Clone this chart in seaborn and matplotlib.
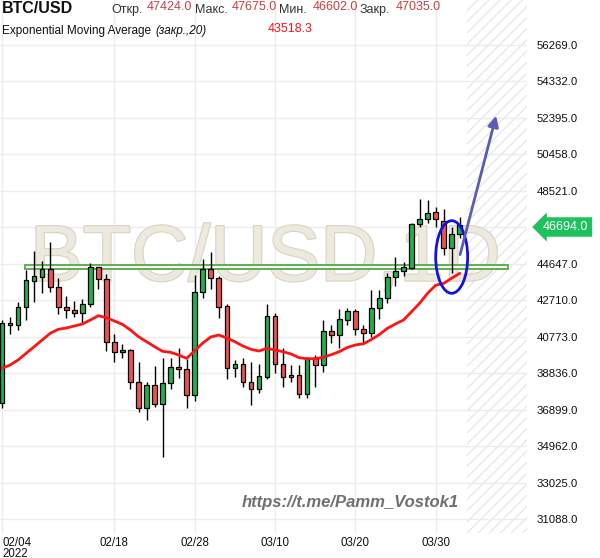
import pandas as pd
import matplotlib
matplotlib.use("Agg")
import matplotlib.pyplot as plt
import matplotlib.dates as mdates
import matplotlib.patheffects as pe
from matplotlib.patches import Ellipse, Rectangle
import seaborn as sns

# daily BTC/USD candles, 04.02.2022 - 02.04.2022
dates = pd.date_range("2022-02-04", "2022-04-02", freq="D")
opens = [37254, 41500, 41393, 42349, 43760, 43973, 44365, 43442, 42349, 42189,
         42030, 42508, 44471, 43835, 40491, 39960, 40067, 38368, 36988, 38225,
         37201, 38315, 39164, 39058, 37678, 43145, 44365, 43888, 42402, 39111,
         39324, 38368, 37997, 38634, 41887, 39355, 38740, 38740, 37747, 39642,
         39271, 41091, 40863, 41675, 42152, 41197, 40969, 42295, 42826, 43941,
         44275, 44418, 46753, 47019, 47424, 46944, 45480, 46223]
highs = [41675, 41850, 42646, 44328, 45336, 44822, 45798, 43888, 42964, 42683,
         42773, 44684, 44503, 44100, 40932, 40385, 40120, 39462, 38411, 39217,
         39642, 39642, 40215, 39605, 44063, 44896, 45267, 44036, 42524, 39552,
         39642, 39462, 39324, 42524, 42030, 40173, 39286, 39286, 39695, 39817,
         41675, 41409, 42242, 42295, 42242, 41409, 43267, 43267, 44153, 45002,
         44769, 46838, 48080, 48043, 47675, 47549, 46626, 47125]
lows = [36988, 40932, 41144, 41675, 42646, 43092, 43176, 41993, 41765, 41850,
        41531, 42380, 43304, 40045, 39462, 39642, 37997, 36792, 36368, 37074,
        34388, 37997, 38581, 36988, 37402, 42826, 43304, 41807, 38528, 38634,
        38103, 37148, 37816, 38543, 38846, 38135, 38400, 37519, 37519, 38135,
        38931, 40470, 40173, 41409, 40879, 40401, 40788, 41712, 42593, 43479,
        44010, 44365, 46594, 46838, 46602, 45124, 44153, 46011]
closes = [41500, 41393, 42349, 43797, 44010, 44365, 43442, 42349, 42189, 42030,
          42508, 44471, 43835, 40491, 39960, 40067, 38368, 36988, 38225, 37201,
          38315, 39164, 39058, 37678, 43145, 44365, 43888, 42380, 39111, 39324,
          38368, 37997, 38687, 41887, 39324, 38666, 38666, 37747, 39642, 39271,
          41091, 40863, 41712, 42136, 41197, 40969, 42327, 42858, 43941, 44275,
          44471, 46769, 47019, 47337, 47035, 45480, 46223, 46694]
ema20 = [39111, 39286, 39552, 39907, 40258, 40613, 40969, 41181, 41250, 41356,
         41462, 41675, 41903, 41797, 41622, 41446, 41144, 40788, 40523, 40258,
         40013, 39960, 39817, 39642, 40045, 40454, 40772, 40879, 40720, 40523,
         40295, 40120, 40029, 40173, 40082, 39993, 39870, 39674, 39621, 39621,
         39695, 39833, 39993, 40215, 40348, 40411, 40640, 40905, 41235, 41462,
         41675, 42115, 42561, 43092, 43518, 43622, 43888, 44153]

price_ticks = [31088.0, 33025.0, 34962.0, 36899.0, 38836.0, 40773.0, 42710.0,
               44647.0, 46584.0, 48521.0, 50458.0, 52395.0, 54332.0, 56269.0]
date_ticks = ["2022-02-04", "2022-02-18", "2022-02-28", "2022-03-10", "2022-03-20", "2022-03-30"]
date_labels = ["02/04\n2022", "02/18", "02/28", "03/10", "03/20", "03/30"]
last_price = 46694.0

# drawings on the chart
level_start, level_end = "2022-02-06 20:00", "2022-04-08"
level_low, level_high = 44407, 44593
ellipse_center = ("2022-04-01", 45018)
arrow_from = ("2022-04-01 23:00", 45002)
arrow_to = ("2022-04-06 15:00", 52660)

sns.set_theme(style="white")
plt.rcParams["font.family"] = ["Liberation Sans", "DejaVu Sans"]
plt.rcParams["hatch.linewidth"] = 0.8
plt.rcParams["hatch.color"] = "#e4e4e4"

fig = plt.figure(figsize=(6, 5.58), dpi=100)
ax = fig.add_axes([0, 1 - 533 / 558, 527 / 600, 533 / 558])

x = mdates.date2num(dates)
df = pd.DataFrame({"x": x, "open": opens, "high": highs, "low": lows,
                   "close": closes, "ema": ema20})
df["up"] = df["close"] >= df["open"]
df["bottom"] = df[["open", "close"]].min(axis=1)
df["body"] = (df["close"] - df["open"]).abs().clip(lower=70)

ax.vlines(df["x"], df["low"], df["high"], color="black", lw=1, zorder=3)
ax.bar(df["x"], df["body"], bottom=df["bottom"], width=0.58,
       color=["#21b150" if u else "#f05252" for u in df["up"]],
       edgecolor="black", linewidth=0.9, zorder=4)
sns.lineplot(data=df, x="x", y="ema", color="#ff1414", lw=2, ax=ax, zorder=5)

# future zone
x0 = mdates.date2num(pd.Timestamp("2022-02-04")) - 0.25
x1 = mdates.date2num(pd.Timestamp("2022-02-04")) + 65.38
ax.axvspan(mdates.date2num(pd.Timestamp("2022-04-02 21:00")), x1,
           facecolor="none", edgecolor="#e4e4e4", hatch="///", lw=0, zorder=0)

# horizontal level (thin double line)
ls, le = mdates.date2num(pd.Timestamp(level_start)), mdates.date2num(pd.Timestamp(level_end))
ax.add_patch(Rectangle((ls, level_low), le - ls, level_high - level_low,
                       facecolor="#f3f8ef", edgecolor="#62ab58", lw=1.4, zorder=2))

# ellipse + arrow
ax.add_patch(Ellipse((mdates.date2num(pd.Timestamp(ellipse_center[0])), ellipse_center[1]),
                     3.98, 3853, fill=False, edgecolor="#1212e6", lw=2, zorder=6))
ax.annotate("", xy=(mdates.date2num(pd.Timestamp(arrow_to[0])), arrow_to[1]),
            xytext=(mdates.date2num(pd.Timestamp(arrow_from[0])), arrow_from[1]),
            arrowprops=dict(arrowstyle="-|>", color="#5c5cb4", lw=2, mutation_scale=16),
            zorder=7)

# watermark
ax.text(0.503, 0.512, "BTC/USD,1D", transform=ax.transAxes, ha="center", va="center",
        fontsize=57, color="#ede9df", zorder=1,
        path_effects=[pe.withStroke(linewidth=1.6, foreground="#d9d3c2")])

ax.set_xlim(x0, x1)
ax.set_ylim(30371, 58657)
ax.set_xticks(mdates.date2num(pd.to_datetime(date_ticks)))
ax.set_xticklabels(date_labels, fontsize=8.3, linespacing=0.82)
ax.get_xticklabels()[0].set_ha("left")
ax.set_yticks(price_ticks)
ax.set_yticklabels(["" if v == 46584.0 else f"{v:.1f}" for v in price_ticks], fontsize=8.2)
ax.yaxis.tick_right()
ax.tick_params(axis="both", length=0, colors="#111111")
ax.tick_params(axis="y", pad=7)
ax.tick_params(axis="x", pad=3)
ax.grid(True, color="#ececec", lw=1)
ax.set_axisbelow(True)
ax.set_xlabel("")
ax.set_ylabel("")
for s in ax.spines.values():
    s.set_visible(False)


def px(xp, yp):
    return xp / 600, 1 - yp / 558


fig.text(*px(2, 8.5), "BTC/USD", fontsize=11.5, fontweight="bold", va="center", color="#111111")
for lx, lab, vx, val in [(111, "Откр.", 147, "47424.0"), (195, "Макс.", 232, "47675.0"),
                         (279, "Мин.", 313, "46602.0"), (360, "Закр.", 396, "47035.0")]:
    fig.text(*px(lx, 10), lab, fontsize=9, va="center", color="#333333")
    fig.text(*px(vx, 6.5), val, fontsize=9, va="center", color="#c84040")
fig.text(*px(2, 31), "Exponential Moving Average ", fontsize=8.5, va="center", color="#111111")
fig.text(*px(155, 31), "(закр.,20)", fontsize=8.5, va="center", style="italic", color="#111111")
fig.text(*px(268, 29), "43518.3", fontsize=9, va="center", color="#ff1010")

fig.text(*px(350, 503), "https://t.me/Pamm_Vostok1", fontsize=12, ha="center", va="center",
         style="italic", fontweight="bold", color="#707070")

fig.text(*px(543, 227), f"{last_price:.1f}", fontsize=9, va="center", color="white",
         bbox=dict(boxstyle="larrow,pad=0.3", facecolor="#1fc15e", edgecolor="none"))

fig.savefig("out.png", dpi=100)
